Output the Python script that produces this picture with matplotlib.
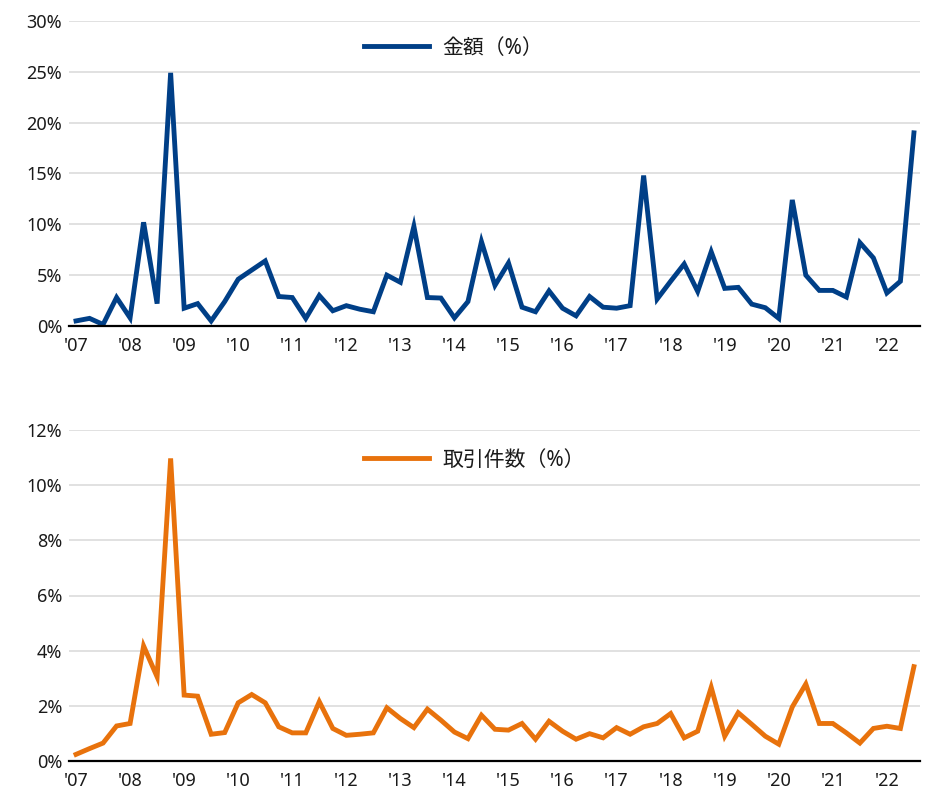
import matplotlib
matplotlib.use("Agg")
import matplotlib.pyplot as plt
import numpy as np

plt.rcParams['font.family'] = ['Noto Sans', 'Noto Sans CJK JP', 'DejaVu Sans']

year_labels = ["'07", "'08", "'09", "'10", "'11", "'12", "'13", "'14", "'15",
               "'16", "'17", "'18", "'19", "'20", "'21", "'22"]

# Quarterly values, 2007Q1 - 2022Q3
amount = [0.5, 0.75, 0.15, 2.8, 0.8, 10.2, 2.2, 24.9, 1.75, 2.2,
          0.5, 2.4, 4.6, 5.5, 6.4, 2.9, 2.8, 0.75, 3.0, 1.5,
          2.0, 1.65, 1.4, 5.0, 4.3, 9.8, 2.8, 2.75, 0.8, 2.4,
          8.3, 4.0, 6.2, 1.85, 1.4, 3.45, 1.75, 1.0, 2.9, 1.85,
          1.75, 2.0, 14.8, 2.65, 4.4, 6.1, 3.4, 7.3, 3.7, 3.8,
          2.15, 1.8, 0.75, 12.4, 5.0, 3.5, 3.5, 2.85, 8.2, 6.7,
          3.25, 4.4, 19.0]

deals = [0.24, 0.45, 0.65, 1.27, 1.36, 4.17, 3.05, 10.97, 2.39, 2.35,
         0.97, 1.03, 2.11, 2.41, 2.11, 1.24, 1.02, 1.02, 2.15, 1.18,
         0.93, 0.97, 1.02, 1.93, 1.54, 1.21, 1.88, 1.48, 1.05, 0.81,
         1.66, 1.15, 1.12, 1.36, 0.79, 1.44, 1.08, 0.79, 0.99, 0.84,
         1.21, 0.97, 1.24, 1.36, 1.72, 0.84, 1.08, 2.67, 0.9, 1.75,
         1.33, 0.9, 0.61, 1.96, 2.79, 1.36, 1.36, 1.02, 0.65, 1.18,
         1.26, 1.18, 3.42]

label_amount = "金額（%）"
label_deals = "取引件数（%）"

blue = "#003f87"
orange = "#e8720c"

fig = plt.figure(figsize=(9.3, 7.92), dpi=100)
W, H = 930, 792
left = 69 / W
width = (920 - 69) / W

ax1 = fig.add_axes([left, 1 - 326 / H, width, (326 - 21) / H])
ax2 = fig.add_axes([left, 1 - 761 / H, width, (761 - 430) / H])

x = np.arange(len(amount))


def style(ax, yticks, ymax):
    ax.set_ylim(0, ymax)
    ax.set_xlim(-0.52, 62.45)
    ax.set_yticks(yticks)
    ax.set_yticklabels([f"{t}%" for t in yticks])
    ax.set_xticks(np.arange(0, 64, 4))
    ax.set_xticklabels(year_labels)
    for s in ['top', 'right', 'left']:
        ax.spines[s].set_visible(False)
    ax.spines['bottom'].set_color('black')
    ax.spines['bottom'].set_linewidth(1.6)
    ax.spines['bottom'].set_zorder(5)
    ax.grid(axis='y', color='#d9d9d9', linewidth=1.1)
    ax.set_axisbelow(True)
    ax.tick_params(axis='both', length=0, labelsize=13, colors='#1a1a1a')
    ax.tick_params(axis='y', pad=5)
    ax.tick_params(axis='x', pad=8)


def add_legend(ax, ypix):
    ax.legend(loc='center left', bbox_to_anchor=(364 / W, 1 - ypix / H),
              bbox_transform=fig.transFigure, frameon=False, fontsize=15,
              handlelength=3.1, handletextpad=0.65, borderaxespad=0, borderpad=0,
              labelcolor='#1a1a1a')


ax1.plot(x, amount, color=blue, lw=3.5, solid_joinstyle='miter', label=label_amount, zorder=3)
style(ax1, [0, 5, 10, 15, 20, 25, 30], 30)
add_legend(ax1, 48)

ax2.plot(x, deals, color=orange, lw=3.5, solid_joinstyle='miter', label=label_deals, zorder=3)
style(ax2, [0, 2, 4, 6, 8, 10, 12], 12)
add_legend(ax2, 460)

fig.savefig("out.png", dpi=100)
